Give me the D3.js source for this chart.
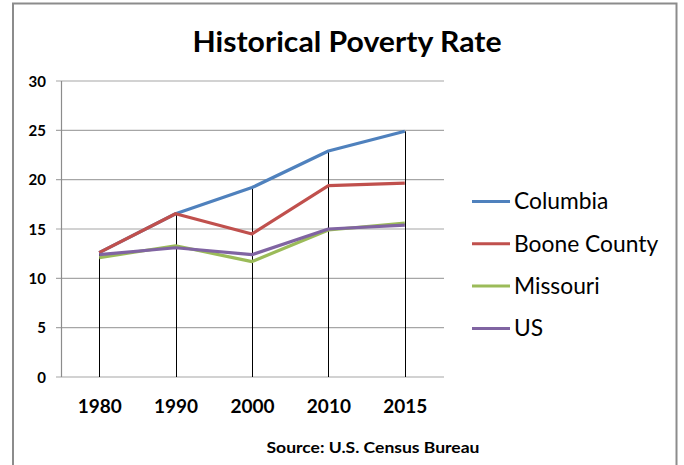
<!DOCTYPE html>
<html><head><meta charset="utf-8">
<script src="https://cdn.jsdelivr.net/npm/d3@7/dist/d3.min.js"></script>
<style>body{margin:0;background:#fff}svg{display:block}</style>
</head><body>
<svg id="c" width="684" height="465"></svg>
<script>
const years = ["1980","1990","2000","2010","2015"];
const seriesNames = ["Columbia","Boone County","Missouri","US"];
const columbia = [12.6, 16.55, 19.2, 22.9, 24.9];
const booneCounty = [12.6, 16.55, 14.5, 19.4, 19.65];
const missouri = [12.1, 13.3, 11.7, 14.9, 15.6];
const us = [12.4, 13.1, 12.4, 15.0, 15.4];
const yTicks = [0,5,10,15,20,25,30];
const colors = ["#4F81BD","#C0504D","#9BBB59","#8064A2"];
const title = "Historical Poverty Rate";
const source = "Source: U.S. Census Bureau";

const series = [columbia, booneCounty, missouri, us].map((v,i)=>({name:seriesNames[i], values:v, color:colors[i]}));

const svg = d3.select("#c");
const font = "Lato, 'Open Sans', sans-serif";

// outer border
svg.append("rect").attr("x",13).attr("y",3.5).attr("width",663.5).attr("height",470)
  .attr("fill","#fff").attr("stroke","#8c8c8c").attr("stroke-width",2);

const x = d3.scalePoint().domain(years).range([61,443]).padding(0.5);
const y = d3.scaleLinear().domain([0,30]).range([377,81]);

// gridlines
const grid = svg.append("g");
grid.selectAll("line").data(yTicks).join("line")
  .attr("x1",56).attr("x2",444).attr("y1",d=>y(d)).attr("y2",d=>y(d))
  .attr("stroke","#a6a6a6").attr("stroke-width",1.2);

// y axis line
svg.append("line").attr("x1",61.5).attr("x2",61.5).attr("y1",y(30)).attr("y2",y(0))
  .attr("stroke","#8c8c8c").attr("stroke-width",1.2);

// y axis labels via d3 axis
const yAxis = svg.append("g").attr("transform","translate(46,0)")
  .call(d3.axisLeft(y).tickValues(yTicks).tickSize(0).tickPadding(0));
yAxis.select(".domain").remove();
yAxis.selectAll("text").attr("font-family",font).attr("font-weight","bold")
  .attr("font-size",15).attr("fill","#000").attr("dy","0.35em");

// drop lines
svg.append("g").selectAll("line").data(years).join("line")
  .attr("x1",d=>Math.round(x(d))+0.5).attr("x2",d=>Math.round(x(d))+0.5)
  .attr("y1",(d,i)=>y(d3.max(series,s=>s.values[i]))).attr("y2",y(0))
  .attr("stroke","#000").attr("stroke-width",1);

// x labels
const xAxis = svg.append("g").attr("transform","translate(0,406)")
  .call(d3.axisBottom(x).tickSize(0).tickPadding(0));
xAxis.select(".domain").remove();
xAxis.selectAll("text").attr("font-family",font).attr("font-weight","bold")
  .attr("font-size",19).attr("fill","#000").attr("dy","0.35em");

// lines
const line = d3.line().x((d,i)=>x(years[i])).y(d=>y(d));
svg.append("g").selectAll("path").data(series).join("path")
  .attr("d",d=>line(d.values)).attr("fill","none")
  .attr("stroke",d=>d.color).attr("stroke-width",3.2).attr("stroke-linejoin","round");

// legend
const lg = svg.append("g").selectAll("g").data(series).join("g")
  .attr("transform",(d,i)=>`translate(0,${201.5+i*42.3})`);
lg.append("line").attr("x1",472).attr("x2",510).attr("stroke",d=>d.color).attr("stroke-width",3);
lg.append("text").attr("x",514).attr("dy","0.35em").text(d=>d.name)
  .attr("font-family",font).attr("font-size",22.8).attr("fill","#000");

// title
svg.append("text").attr("x",347).attr("y",52).attr("text-anchor","middle")
  .attr("font-family",font).attr("font-weight","bold").attr("font-size",29)
  .attr("textLength",309).attr("lengthAdjust","spacingAndGlyphs").text(title);

// source
svg.append("text").attr("x",373).attr("y",453).attr("text-anchor","middle")
  .attr("font-family",font).attr("font-weight","bold").attr("font-size",14.5)
  .attr("textLength",213).attr("lengthAdjust","spacingAndGlyphs").text(source);
</script>
</body></html>
